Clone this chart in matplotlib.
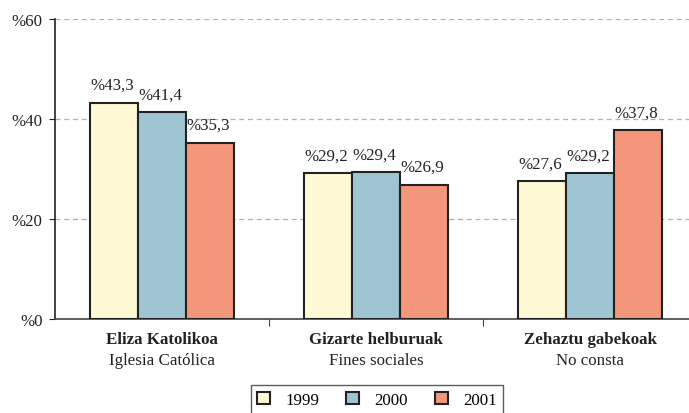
import matplotlib
matplotlib.use("Agg")
import matplotlib.pyplot as plt
import numpy as np
from matplotlib.transforms import blended_transform_factory

plt.rcParams['font.family'] = ['Liberation Serif', 'DejaVu Serif']

categories_eu = ["Eliza Katolikoa", "Gizarte helburuak", "Zehaztu gabekoak"]
categories_es = ["Iglesia Católica", "Fines sociales", "No consta"]
years = ["1999", "2000", "2001"]
values = {
    "1999": [43.3, 29.2, 27.6],
    "2000": [41.4, 29.4, 29.2],
    "2001": [35.3, 26.9, 37.8],
}
yticks = [0, 20, 40, 60]
colors = ["#FFF9D6", "#9FC4D2", "#F4967A"]

fig = plt.figure(figsize=(6.89, 4.14), dpi=100)
ax = fig.add_axes([55/689, 1 - 320/414, 634/689, 300/414])

x = np.arange(len(categories_eu))
w = 0.224
for i, yr in enumerate(years):
    xs = x + (i - 1) * w
    ax.bar(xs, values[yr], width=w, color=colors[i], edgecolor="#222222",
           linewidth=1.5, label=yr, zorder=3)
    for xv, v in zip(xs, values[yr]):
        ax.annotate("%" + f"{v:.1f}".replace(".", ","), (xv - 0.01, v),
                    xytext=(0, 7), textcoords="offset points",
                    ha="center", va="bottom", fontsize=12.2, color="#222222")

ax.set_ylim(0, 60)
ax.set_xlim(-0.5, 2.5 - 8/214)
ax.set_yticks(yticks)
ax.set_yticklabels(["%" + str(t) for t in yticks], fontsize=12.2, color="#222222")
ax.yaxis.grid(True, linestyle=(0, (4, 3)), color="#b0b0b0", linewidth=0.9, zorder=0)
ax.set_xticks([0.5, 1.5])
ax.set_xticklabels([])
ax.tick_params(axis="x", direction="out", length=5, color="#444444")
ax.tick_params(axis="y", direction="out", length=4, color="#222222", pad=5)
ax.spines["top"].set_visible(False)
ax.spines["right"].set_visible(False)
ax.spines["left"].set_color("#222222")
ax.spines["bottom"].set_color("#444444")
ax.spines["left"].set_linewidth(1.2)
ax.spines["bottom"].set_linewidth(1.2)

trans = blended_transform_factory(ax.transData, fig.transFigure)
for xi, eu, es in zip(x, categories_eu, categories_es):
    ax.text(xi, 1 - 340/414, eu, transform=trans, ha="center", va="center",
            fontsize=12.2, fontweight="bold", color="#222222")
    ax.text(xi, 1 - 361/414, es, transform=trans, ha="center", va="center",
            fontsize=12.2, color="#222222")

leg = fig.legend(loc="lower center", bbox_to_anchor=(377/689, -0.004), ncol=3,
                 fontsize=12.2, frameon=True, fancybox=False, handlelength=0.75,
                 handleheight=0.75, columnspacing=1.6, borderpad=0.4,
                 handletextpad=0.9, borderaxespad=0.0)
leg.get_frame().set_edgecolor("#333333")
leg.get_frame().set_linewidth(1.0)

fig.savefig("out.png", dpi=100)
